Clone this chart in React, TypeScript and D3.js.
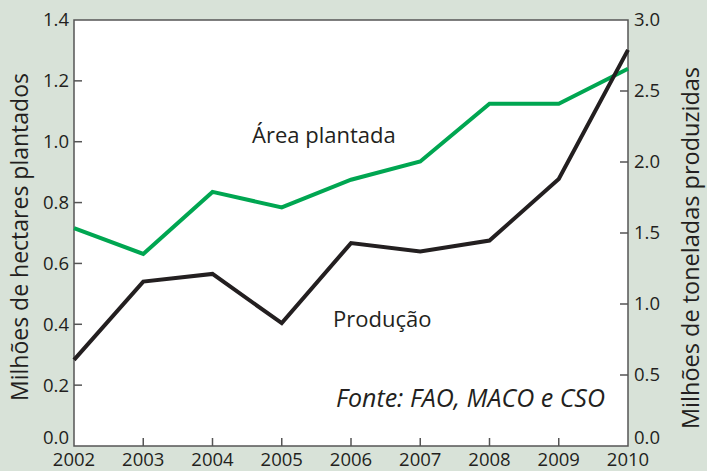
import * as d3 from 'd3';
import { useEffect, useRef } from 'react';

const years = [2002, 2003, 2004, 2005, 2006, 2007, 2008, 2009, 2010];
const areaPlantada = [0.716, 0.631, 0.835, 0.784, 0.875, 0.935, 1.125, 1.125, 1.24];
const producao = [0.606, 1.158, 1.212, 0.865, 1.429, 1.37, 1.447, 1.88, 2.79];
const leftTicks = [0, 0.2, 0.4, 0.6, 0.8, 1.0, 1.2, 1.4];
const rightTicks = [0, 0.5, 1.0, 1.5, 2.0, 2.5, 3.0];

const W = 707;
const H = 471;
const margin = { top: 20, right: 79, bottom: 25, left: 74 };
const FONT = '"Open Sans", sans-serif';

const App = () => {
  const ref = useRef<SVGSVGElement>(null);

  useEffect(() => {
    const svg = d3.select(ref.current);
    svg.selectAll('*').remove();

    const x = d3.scaleLinear().domain([2002, 2010]).range([margin.left, W - margin.right]);
    const yL = d3.scaleLinear().domain([0, 1.4]).range([H - margin.bottom, margin.top]);
    const yR = d3.scaleLinear().domain([0, 3.0]).range([H - margin.bottom, margin.top]);

    svg.append('rect').attr('width', W).attr('height', H).attr('fill', '#d8e2d8');
    svg
      .append('rect')
      .attr('x', margin.left)
      .attr('y', margin.top)
      .attr('width', W - margin.left - margin.right)
      .attr('height', H - margin.top - margin.bottom)
      .attr('fill', '#fff')
      .attr('stroke', '#555')
      .attr('stroke-width', 1.5);

    const tickLen = 8;
    const axisColor = '#555';

    // left axis
    const gl = svg.append('g');
    leftTicks.forEach((t, i) => {
      if (i > 0 && i < leftTicks.length - 1)
        gl.append('line')
          .attr('x1', margin.left).attr('x2', margin.left + tickLen)
          .attr('y1', yL(t)).attr('y2', yL(t))
          .attr('stroke', axisColor).attr('stroke-width', 1.5);
      gl.append('text')
        .attr('x', margin.left - 5)
        .attr('y', yL(t) - (i === 0 ? 8 : 0))
        .attr('dy', '0.35em')
        .attr('text-anchor', 'end')
        .text(d3.format('.1f')(t));
    });

    // right axis
    const gr = svg.append('g');
    rightTicks.forEach((t, i) => {
      if (i > 0 && i < rightTicks.length - 1)
        gr.append('line')
          .attr('x1', W - margin.right - tickLen).attr('x2', W - margin.right)
          .attr('y1', yR(t)).attr('y2', yR(t))
          .attr('stroke', axisColor).attr('stroke-width', 1.5);
      gr.append('text')
        .attr('x', W - margin.right + 6)
        .attr('y', yR(t) - (i === 0 ? 8 : 0))
        .attr('dy', '0.35em')
        .attr('text-anchor', 'start')
        .text(d3.format('.1f')(t));
    });

    // bottom axis
    const gb = svg.append('g');
    years.forEach((yr, i) => {
      if (i > 0 && i < years.length - 1)
        gb.append('line')
          .attr('x1', x(yr)).attr('x2', x(yr))
          .attr('y1', H - margin.bottom).attr('y2', H - margin.bottom - tickLen)
          .attr('stroke', axisColor).attr('stroke-width', 1.5);
      gb.append('text')
        .attr('x', x(yr))
        .attr('y', H - margin.bottom + 20)
        .attr('text-anchor', 'middle')
        .text(yr);
    });

    svg.selectAll('g text')
      .attr('font-family', FONT)
      .attr('font-size', 18.5)
      .attr('fill', '#231f20');

    const lineL = d3.line<number>().x((_, i) => x(years[i])).y((d) => yL(d));
    const lineR = d3.line<number>().x((_, i) => x(years[i])).y((d) => yR(d));

    svg.append('path')
      .datum(areaPlantada)
      .attr('d', lineL)
      .attr('fill', 'none')
      .attr('stroke', '#00a651')
      .attr('stroke-width', 4);

    svg.append('path')
      .datum(producao)
      .attr('d', lineR)
      .attr('fill', 'none')
      .attr('stroke', '#231f20')
      .attr('stroke-width', 4);

    const label = (tx: number, ty: number, s: string, size: number, italic = false) =>
      svg.append('text')
        .attr('x', tx).attr('y', ty)
        .attr('font-family', FONT)
        .attr('font-size', size)
        .attr('font-style', italic ? 'italic' : 'normal')
        .attr('fill', '#231f20')
        .text(s);

    label(252, 143, 'Área plantada', 22);
    label(333, 327, 'Produção', 22);
    label(336, 407, 'Fonte: FAO, MACO e CSO', 25, true);

    svg.append('text')
      .attr('transform', `translate(28, 237) rotate(-90)`)
      .attr('text-anchor', 'middle')
      .attr('font-family', FONT)
      .attr('font-size', 23)
      .attr('fill', '#231f20')
      .text('Milhões de hectares plantados');

    svg.append('text')
      .attr('transform', `translate(699, 248) rotate(-90)`)
      .attr('text-anchor', 'middle')
      .attr('font-family', FONT)
      .attr('font-size', 23.5)
      .attr('fill', '#231f20')
      .text('Milhões de toneladas produzidas');
  }, []);

  return (
    <div style={{ position: 'fixed', left: 0, top: 0 }}>
      <svg ref={ref} width={W} height={H} style={{ display: 'block' }} />
    </div>
  );
};

export default App;
